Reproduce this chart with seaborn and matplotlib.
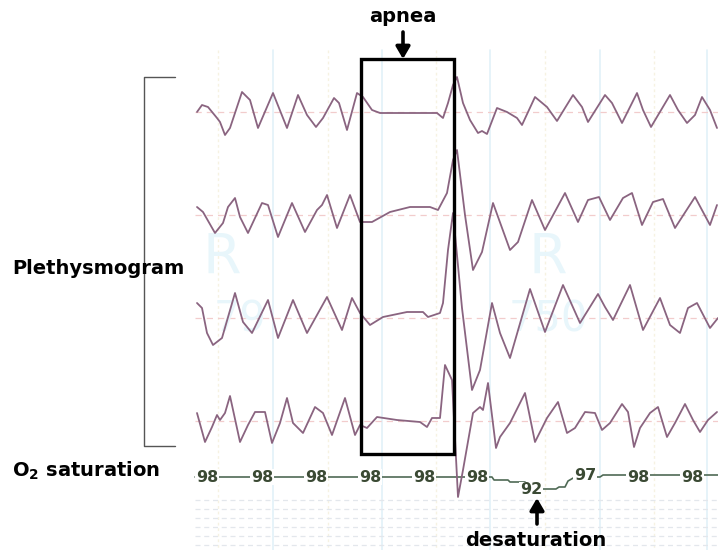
import matplotlib
matplotlib.use("Agg")
import matplotlib.pyplot as plt
import seaborn as sns
import pandas as pd
from matplotlib.patches import Rectangle

# ---------------- data ----------------
trace1_t = [197,202,208,217,220,225,230,242,250,258,273,287,298,307,316,323,334,339,347,357,
            363,372,380,423,437,443,448,453,457,463,470,478,482,487,497,507,517,522,535,547,
            557,573,582,588,605,612,622,637,643,651,670,678,687,695,702,710,717]
trace1_amp = [0,7,5,-6,-10,-23,-16,20,12,-16,19,-16,17,-3,-15,-6,14,9,-18,19,
              15,2,-1,-1,-1,-6,9,27,35,9,-8,-21,-19,-22,4,0,-6,-13,15,5,
              -9,17,5,-10,17,9,-11,19,2,-15,17,2,-11,-3,15,2,-16]

trace2_t = [197,203,215,223,228,235,240,248,262,268,278,292,305,317,322,327,337,350,360,372,
            390,410,430,438,447,453,457,465,473,482,493,510,518,532,545,565,578,588,599,610,
            623,632,642,653,663,675,695,710,717]
trace2_amp = [8,3,-18,-8,8,17,-2,-18,12,10,-22,12,-17,5,10,20,-13,20,-7,-7,
              3,8,8,5,22,55,65,0,-55,-37,12,-35,-27,15,-15,22,-7,15,18,-5,
              17,22,-10,13,16,-13,18,-10,10]

trace3_t = [197,202,207,213,222,235,243,252,268,278,293,307,327,342,352,360,370,383,407,423,
            428,440,443,448,453,462,472,480,492,500,510,530,545,563,580,598,605,613,630,643,
            660,670,680,688,697,710,718]
trace3_amp = [15,10,-15,-27,-20,25,-4,-15,18,-20,18,-15,21,-12,20,5,-7,1,6,6,
              1,5,15,68,105,10,-72,-52,15,-15,-40,29,-14,33,-5,24,11,-2,33,-12,
              20,-7,-15,10,15,-10,0]

trace4_t = [197,205,212,217,220,225,230,240,248,255,265,272,280,287,293,303,315,323,332,345,
            355,360,367,377,397,420,427,432,440,445,452,458,463,473,480,483,488,496,500,510,
            525,535,547,558,567,575,585,595,602,610,622,628,634,640,650,658,667,675,685,693,
            700,708,717]
trace4_amp = [8,-21,-6,6,1,8,25,-21,-4,9,9,-22,-2,23,-2,-12,14,8,-14,23,
              -14,-4,-7,4,1,-1,-6,3,3,56,41,-76,-49,8,14,11,38,-27,-16,-2,
              28,-21,3,19,-12,-7,9,8,-9,-2,17,9,-26,-7,8,14,-16,-2,17,1,
              -11,1,9]

o2_t = [195,492,494,508,510,525,528,540,556,559,565,568,575,600,603,718]
o2_dev = [0,0,3,3,5,5,9,12,12,10,10,4,0,0,-2,-2]

o2_labels = ["98","98","98","98","98","98","92","97","98","98"]
o2_label_t = [207,262,316,370,424,477,531,585,638,692]

# ---------------- layout / style ----------------
BASELINES = [112, 215, 318, 421]
O2_LEVEL = 477
TRACE_COLOR = "#8a6480"
O2_COLOR = "#4f6a55"
O2_TEXT = "#3b4a34"

sns.set_theme(style="white")
plt.rcParams["font.family"] = ["DejaVu Sans"]
plt.rcParams["mathtext.default"] = "bf"
plt.rcParams["text.color"] = "black"

fig = plt.figure(figsize=(7.18, 5.5), dpi=100)
ax = fig.add_axes([0, 0, 1, 1])
ax.set_xlim(0, 718)
ax.set_ylim(550, 0)
ax.axis("off")

# background monitor grid
for i, gx in enumerate([218, 273, 328, 382, 436, 490, 545, 600, 654, 707]):
    if i % 2 == 1:
        ax.plot([gx, gx], [50, 550], color="#e2f1f8", lw=1.2, zorder=0)
    else:
        ax.plot([gx, gx], [50, 550], color="#f6f2e2", lw=1.0, ls=(0, (2, 2)), zorder=0)
for gy in [500, 509, 518, 527, 536, 545]:
    ax.plot([195, 718], [gy, gy], color="#e3e7ec", lw=0.9, ls=(0, (4, 3)), zorder=0)
for b in BASELINES:
    ax.plot([195, 718], [b, b], color="#f2cccc", lw=0.9, ls=(0, (5, 4)), zorder=0)

# faint watermark characters from the monitor screen
for (wx, wy, s) in [(222, 258, "R"), (548, 258, "R"), (240, 320, "79"), (548, 320, "750")]:
    ax.text(wx, wy, s, fontsize=40 if s == "R" else 30, color="#e8f6fb",
            ha="center", va="center", zorder=0)

# plethysmogram traces
traces = [(trace1_t, trace1_amp), (trace2_t, trace2_amp),
          (trace3_t, trace3_amp), (trace4_t, trace4_amp)]
for (tt, aa), base in zip(traces, BASELINES):
    df = pd.DataFrame({"t": tt, "y": [base - a for a in aa]})
    sns.lineplot(data=df, x="t", y="y", ax=ax, sort=False, estimator=None,
                 color=TRACE_COLOR, lw=1.3, zorder=3,
                 solid_joinstyle="round", solid_capstyle="round")

# O2 saturation trace
df_o2 = pd.DataFrame({"t": o2_t, "y": [O2_LEVEL + d for d in o2_dev]})
sns.lineplot(data=df_o2, x="t", y="y", ax=ax, sort=False, estimator=None,
             color=O2_COLOR, lw=1.2, zorder=2)
for lab, lt in zip(o2_labels, o2_label_t):
    ly = O2_LEVEL + (13 if lab == "92" else (-1 if lab == "97" else 0))
    ax.text(lt, ly, lab, fontsize=11.5, fontweight="bold", color=O2_TEXT,
            ha="center", va="center", zorder=4,
            bbox=dict(boxstyle="square,pad=0.05", fc="white", ec="none"))

ax.set_xlim(0, 718)
ax.set_ylim(550, 0)
ax.set_xlabel("")
ax.set_ylabel("")

# apnea box
ax.add_patch(Rectangle((361, 59), 93, 395, fill=False, ec="black", lw=2.4, zorder=5))

# bracket
ax.plot([175, 144, 144, 175], [77, 77, 446, 446], color="#555555", lw=1.0, zorder=2)

# annotations
ax.text(403, 17, "apnea", fontsize=14, fontweight="bold", color="black",
        ha="center", va="center")
ax.annotate("", xy=(403, 59), xytext=(403, 32),
            arrowprops=dict(arrowstyle="-|>,head_width=0.35,head_length=0.6",
                            lw=2.6, color="black", shrinkA=0, shrinkB=0))
ax.text(536, 541, "desaturation", fontsize=14, fontweight="bold", color="black",
        ha="center", va="center")
ax.annotate("", xy=(537, 498), xytext=(537, 524),
            arrowprops=dict(arrowstyle="-|>,head_width=0.35,head_length=0.6",
                            lw=2.6, color="black", shrinkA=0, shrinkB=0))
ax.text(12, 268, "Plethysmogram", fontsize=14, fontweight="bold", color="black",
        ha="left", va="center")
ax.text(12, 471, r"O$_2$ saturation", fontsize=14, fontweight="bold", color="black",
        ha="left", va="center")

fig.savefig("out.png", dpi=100)
